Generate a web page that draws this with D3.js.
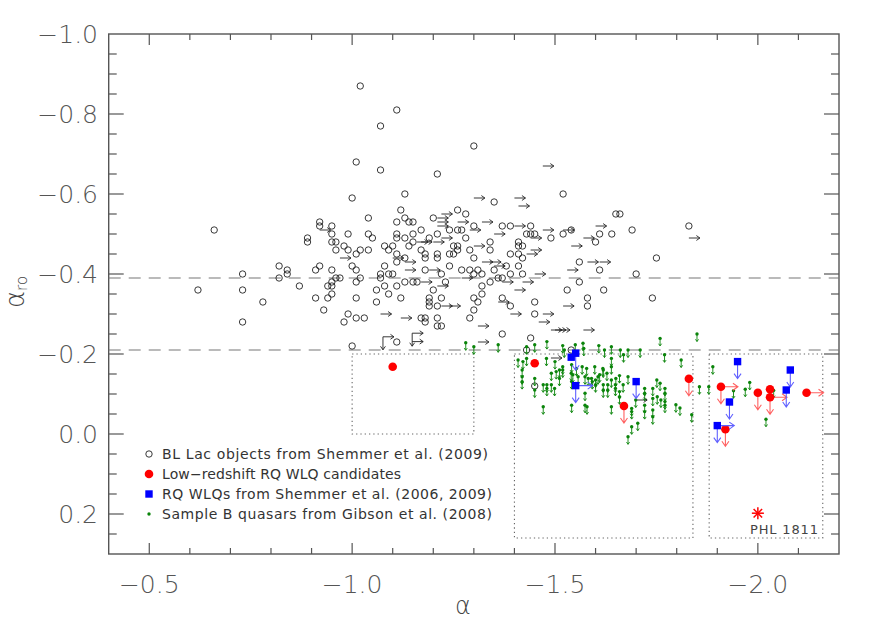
<!DOCTYPE html>
<html>
<head>
<meta charset="utf-8">
<script src="https://cdn.jsdelivr.net/npm/d3@7"></script>
<style>
  body { margin: 0; background: #fff; }
  svg { display: block; }
</style>
</head>
<body>
<svg id="chart" width="872" height="623"></svg>
<script>
// BL Lac objects (Shemmer et al. 2009): [alpha, alphaRO]
const blLac = [
  [-1.02,-0.87],[-1.11,-0.81],[-1.07,-0.77],[-1.01,-0.68],[-1.07,-0.66],[-1.21,-0.65],[-1.13,-0.60],[-1.00,-0.59],
  [-0.66,-0.51],[-0.62,-0.36],[-0.73,-0.40],[-0.73,-0.36],[-0.78,-0.33],[-0.82,-0.42],[-0.82,-0.39],[-0.84,-0.41],
  [-0.84,-0.40],[-0.87,-0.37],[-0.89,-0.49],[-0.89,-0.48],[-0.91,-0.41],[-0.92,-0.42],[-0.91,-0.34],[-0.93,-0.31],
  [-0.92,-0.53],[-0.92,-0.52],[-0.95,-0.52],[-0.95,-0.50],[-0.95,-0.48],[-0.96,-0.48],[-0.96,-0.46],[-0.95,-0.41],
  [-0.94,-0.37],[-0.95,-0.37],[-0.95,-0.38],[-0.94,-0.34],[-0.95,-0.35],[-0.96,-0.39],[-0.97,-0.39],[-0.99,-0.50],
  [-0.98,-0.47],[-0.99,-0.46],[-1.00,-0.42],[-1.01,-0.41],[-1.01,-0.38],[-1.02,-0.39],[-1.01,-0.45],[-1.02,-0.46],
  [-1.01,-0.34],[-0.99,-0.30],[-1.01,-0.29],[-1.03,-0.29],[-1.04,-0.54],[-1.04,-0.50],[-1.05,-0.49],[-1.04,-0.46],
  [-1.06,-0.36],[-1.06,-0.33],[-1.07,-0.40],[-1.07,-0.39],[-1.08,-0.42],[-1.08,-0.47],[-1.09,-0.46],[-1.10,-0.47],
  [-1.08,-0.37],[-1.09,-0.35],[-1.09,-0.40],[-1.10,-0.40],[-1.11,-0.53],[-1.11,-0.50],[-1.11,-0.49],[-1.12,-0.56],
  [-1.13,-0.54],[-1.14,-0.53],[-1.15,-0.53],[-1.13,-0.49],[-1.15,-0.50],[-1.14,-0.47],[-1.15,-0.48],[-1.17,-0.51],
  [-1.17,-0.46],[-1.11,-0.45],[-1.11,-0.43],[-1.11,-0.37],[-1.13,-0.44],[-1.12,-0.34],[-1.13,-0.38],[-1.15,-0.38],
  [-1.16,-0.38],[-1.18,-0.45],[-1.18,-0.44],[-1.18,-0.41],[-1.19,-0.49],[-1.21,-0.50],[-1.20,-0.54],[-1.21,-0.45],
  [-1.21,-0.44],[-1.22,-0.40],[-1.23,-0.38],[-1.20,-0.36],[-1.19,-0.34],[-1.19,-0.33],[-1.19,-0.32],[-1.22,-0.34],
  [-1.21,-0.32],[-1.24,-0.51],[-1.24,-0.45],[-1.24,-0.42],[-1.17,-0.29],[-1.18,-0.29],[-1.18,-0.28],[-1.21,-0.29],
  [-1.21,-0.27],[-1.22,-0.27],[-0.73,-0.28],[-0.98,-0.28],[-1.00,-0.22],[-1.11,-0.23],
  [-1.30,-0.72],[-1.52,-0.60],[-1.35,-0.58],[-1.26,-0.56],[-1.28,-0.55],[-1.65,-0.55],[-1.66,-0.55],[-1.83,-0.52],
  [-1.26,-0.51],[-1.27,-0.51],[-1.30,-0.52],[-1.37,-0.52],[-1.39,-0.52],[-1.44,-0.52],[-1.43,-0.50],[-1.44,-0.50],
  [-1.45,-0.50],[-1.54,-0.51],[-1.52,-0.50],[-1.61,-0.50],[-1.64,-0.50],[-1.69,-0.51],[-1.28,-0.49],[-1.34,-0.48],
  [-1.41,-0.48],[-1.41,-0.47],[-1.42,-0.47],[-1.49,-0.49],[-1.60,-0.48],[-1.25,-0.47],[-1.26,-0.47],[-1.26,-0.46],
  [-1.29,-0.46],[-1.34,-0.46],[-1.25,-0.45],[-1.30,-0.44],[-1.39,-0.45],[-1.41,-0.45],[-1.42,-0.44],[-1.56,-0.43],
  [-1.75,-0.44],[-1.27,-0.41],[-1.29,-0.41],[-1.31,-0.41],[-1.35,-0.41],[-1.38,-0.42],[-1.41,-0.42],[-1.30,-0.40],
  [-1.32,-0.40],[-1.39,-0.40],[-1.42,-0.40],[-1.61,-0.41],[-1.70,-0.40],[-1.36,-0.39],[-1.37,-0.39],[-1.34,-0.38],
  [-1.56,-0.38],[-1.32,-0.37],[-1.32,-0.35],[-1.53,-0.36],[-1.62,-0.36],[-1.30,-0.34],[-1.31,-0.33],[-1.37,-0.34],
  [-1.39,-0.32],[-1.45,-0.33],[-1.58,-0.34],[-1.58,-0.32],[-1.74,-0.34],[-1.30,-0.31],[-1.29,-0.29],[-1.45,-0.30],
  [-1.37,-0.25],[-1.44,-0.24],[-1.45,-0.12],[-1.43,-0.21],[-1.54,-0.21]
];

// BL Lac objects with an upper limit on alpha (arrow to the right)
const blLacAlphaLimits = [
  [-1.47,-0.67],[-1.30,-0.59],[-1.40,-0.59],[-1.41,-0.57],[-1.22,-0.55],[-1.21,-0.54],[-1.21,-0.53],[-1.21,-0.52],
  [-1.26,-0.53],[-1.32,-0.53],[-1.29,-0.51],[-1.35,-0.50],[-1.40,-0.52],[-1.47,-0.51],[-1.52,-0.51],[-1.60,-0.52],
  [-1.83,-0.49],[-1.17,-0.48],[-1.20,-0.48],[-1.22,-0.49],[-1.30,-0.47],[-1.44,-0.49],[-1.54,-0.47],[-1.57,-0.49],
  [-1.44,-0.46],[-1.43,-0.45],[-1.32,-0.43],[-1.34,-0.43],[-1.35,-0.42],[-1.58,-0.43],[-1.61,-0.43],[-1.17,-0.38],
  [-1.21,-0.37],[-1.37,-0.38],[-1.42,-0.38],[-1.45,-0.40],[-1.53,-0.41],[-1.40,-0.36],[-1.22,-0.32],[-1.24,-0.32],
  [-1.36,-0.33],[-1.52,-0.32],[-1.39,-0.30],[-1.47,-0.30],[-1.27,-0.39],[-0.92,-0.51],[-0.97,-0.44],[-1.10,-0.44],
  [-1.13,-0.43],[-1.13,-0.41],[-1.16,-0.48],[-1.19,-0.41],[-1.07,-0.30],[-1.12,-0.29],[-1.31,-0.27],[-1.31,-0.23],
  [-1.46,-0.28],[-1.49,-0.26],[-1.50,-0.26],[-1.51,-0.26],[-1.57,-0.26],[-1.49,-0.19],[-1.70,-0.085],[-1.148,-0.231]
];

// BL Lac objects with limits on both alpha and alphaRO
const blLacBothLimits = [[-1.076,-0.243],[-1.148,-0.252]];

// Sample B quasars (Gibson et al. 2008), alphaRO upper limits
const sampleB = [
  [-1.280,-0.228],[-1.300,-0.218],[-1.360,-0.223],[-1.409,-0.185],[-1.421,-0.181],[-1.430,-0.189],[-1.419,-0.143],
  [-1.419,-0.131],[-1.430,-0.218],[-1.450,-0.223],[-1.450,-0.139],[-1.450,-0.110],[-1.480,-0.231],[-1.479,-0.189],
  [-1.491,-0.152],[-1.503,-0.156],[-1.511,-0.160],[-1.471,-0.123],[-1.480,-0.123],[-1.491,-0.123],[-1.499,-0.114],
  [-1.511,-0.139],[-1.519,-0.221],[-1.523,-0.210],[-1.519,-0.168],[-1.519,-0.160],[-1.540,-0.152],[-1.544,-0.148],
  [-1.553,-0.164],[-1.557,-0.143],[-1.569,-0.227],[-1.571,-0.214],[-1.567,-0.168],[-1.578,-0.164],[-1.574,-0.143],
  [-1.582,-0.139],[-1.590,-0.139],[-1.592,-0.131],[-1.598,-0.168],[-1.606,-0.143],[-1.618,-0.164],[-1.608,-0.221],
  [-1.574,-0.102],[-1.574,-0.072],[-1.471,-0.068],[-1.541,-0.072],[-1.579,-0.068],[-1.600,-0.135],[-1.600,-0.123],
  [-1.550,-0.223],[-1.759,-0.239],[-1.639,-0.218],[-1.622,-0.210],[-1.661,-0.210],[-1.680,-0.210],[-1.669,-0.198],
  [-1.710,-0.210],[-1.770,-0.198],[-1.811,-0.185],[-1.850,-0.250],[-1.639,-0.189],[-1.639,-0.168],[-1.619,-0.160],
  [-1.610,-0.148],[-1.628,-0.152],[-1.639,-0.135],[-1.650,-0.139],[-1.659,-0.146],[-1.649,-0.123],[-1.649,-0.114],
  [-1.619,-0.123],[-1.619,-0.110],[-1.630,-0.123],[-1.630,-0.110],[-1.659,-0.106],[-1.659,-0.093],[-1.721,-0.114],
  [-1.721,-0.102],[-1.741,-0.114],[-1.741,-0.089],[-1.751,-0.135],[-1.759,-0.127],[-1.771,-0.114],[-1.771,-0.102],
  [-1.771,-0.081],[-1.752,-0.093],[-1.761,-0.085],[-1.699,-0.085],[-1.721,-0.072],[-1.721,-0.056],[-1.689,-0.064],
  [-1.689,-0.056],[-1.639,-0.068],[-1.741,-0.060],[-1.741,-0.043],[-1.704,-0.027],[-1.689,-0.018],[-1.680,0.007],
  [-1.798,-0.073],[-1.808,-0.065],[-1.837,-0.048],[-1.856,-0.118],[-1.771,-0.072],[-1.889,-0.168],[-1.879,-0.118],
  [-1.940,-0.108],[-1.969,-0.112],[-1.980,-0.129],[-2.039,-0.109],[-2.020,-0.037],[-1.419,-0.160],[-1.480,-0.114],
  [-1.500,-0.181],[-1.541,-0.173],[-1.541,-0.131],[-1.668,-0.123],[-1.680,-0.143]
];

// Low-redshift RQ WLQ candidates: [alpha, alphaRO, limits] (d = alphaRO limit, r = alpha limit)
const wlqCandidates = [
  [-1.10,-0.168,""],[-1.45,-0.177,""],[-1.67,-0.070,"d"],[-1.83,-0.138,"d"],[-1.909,-0.118,"dr"],
  [-1.92,-0.012,"d"],[-2.00,-0.103,"d"],[-2.03,-0.112,""],[-2.03,-0.092,"dr"],[-2.12,-0.103,"r"]
];

// RQ WLQs from Shemmer et al. (2006, 2009)
const shemmerWlqs = [
  [-1.54,-0.192,""],[-1.551,-0.202,"d"],[-1.551,-0.121,"dr"],[-1.70,-0.131,"d"],[-1.95,-0.181,"d"],
  [-1.93,-0.080,"d"],[-1.90,-0.021,"dr"],[-2.08,-0.160,"d"],[-2.07,-0.110,"d"]
];

const phl1811 = [-2.00, 0.198];

// dividing lines and selection boxes: [alphaMin, alphaMax, roMin, roMax]
const dashedLevels = [-0.39, -0.21];
const boxes = [
  [-1.00, -1.30, -0.20, 0.00],
  [-1.40, -1.84, -0.20, 0.26],
  [-1.88, -2.16, -0.20, 0.26]
];

const xMajor = [-0.5, -1.0, -1.5, -2.0];
const yMajor = [-1.0, -0.8, -0.6, -0.4, -0.2, 0.0, 0.2];

const legendLabels = [
  "BL Lac objects from Shemmer et al. (2009)",
  "Low\u2212redshift RQ WLQ candidates",
  "RQ WLQs from Shemmer et al. (2006, 2009)",
  "Sample B quasars from Gibson et al. (2008)"
];

const chart = (() => {
  const margin = { top: 34, right: 33, bottom: 69, left: 108.7 };
  const width = 872, height = 623;
  const svg = d3.select("#chart");

  const x = d3.scaleLinear().domain([-0.4, -2.2]).range([margin.left, width - margin.right]);
  const y = d3.scaleLinear().domain([-1.0, 0.3]).range([margin.top, height - margin.bottom]);

  const axisColor = "#555";
  const fmt = d3.format(".1f");

  // frame
  svg.append("rect")
    .attr("x", x(-0.4)).attr("y", y(-1.0))
    .attr("width", x(-2.2) - x(-0.4)).attr("height", y(0.3) - y(-1.0))
    .attr("fill", "none").attr("stroke", axisColor).attr("stroke-width", 1.4);

  // ticks: x every 0.1, y every 0.05
  const xTicks = d3.range(5, 22).map(i => -i / 10);
  const yTicks = d3.range(-20, 7).map(i => i / 20);
  const isMajorX = v => xMajor.some(m => Math.abs(m - v) < 1e-6);
  const isMajorY = v => yMajor.some(m => Math.abs(m - v) < 1e-6);

  const ticks = svg.append("g").attr("stroke", axisColor).attr("stroke-width", 1.2);
  for (const v of xTicks) {
    const len = isMajorX(v) ? 11 : 6;
    ticks.append("line").attr("x1", x(v)).attr("x2", x(v)).attr("y1", y(0.3)).attr("y2", y(0.3) - len);
    ticks.append("line").attr("x1", x(v)).attr("x2", x(v)).attr("y1", y(-1.0)).attr("y2", y(-1.0) + len);
  }
  for (const v of yTicks) {
    if (v <= -1.0 || v >= 0.3) continue;
    const len = isMajorY(v) ? 15 : 8;
    ticks.append("line").attr("x1", x(-0.4)).attr("x2", x(-0.4) + len).attr("y1", y(v)).attr("y2", y(v));
    ticks.append("line").attr("x1", x(-2.2)).attr("x2", x(-2.2) - len).attr("y1", y(v)).attr("y2", y(v));
  }

  const labelFont = "'DejaVu Sans', sans-serif";
  svg.append("g")
    .attr("font-family", labelFont).attr("font-weight", 200)
    .attr("font-size", 25).attr("fill", axisColor).attr("text-anchor", "end")
    .selectAll("text").data(yMajor).join("text")
    .attr("x", 98).attr("y", d => y(d)).attr("dy", "0.36em")
    .text(d => fmt(d));

  svg.append("g")
    .attr("font-family", labelFont).attr("font-weight", 200)
    .attr("font-size", 25).attr("fill", axisColor).attr("text-anchor", "middle")
    .selectAll("text").data(xMajor).join("text")
    .attr("x", d => x(d)).attr("y", 593)
    .text(d => fmt(d));

  // axis titles
  svg.append("text")
    .attr("x", x(-1.273)).attr("y", 614)
    .attr("font-family", labelFont).attr("font-weight", 200).attr("font-size", 24)
    .attr("fill", "#444").attr("text-anchor", "middle")
    .text("\u03b1");

  const yTitle = svg.append("text")
    .attr("transform", "translate(24,292) rotate(-90)")
    .attr("font-family", labelFont).attr("font-weight", 200).attr("font-size", 26)
    .attr("fill", "#444").attr("text-anchor", "middle");
  yTitle.append("tspan").text("\u03b1");
  yTitle.append("tspan").attr("font-size", 15).attr("dy", 3).text("ro");

  // dashed levels
  svg.append("g")
    .attr("stroke", "#777").attr("stroke-width", 1.1).attr("stroke-dasharray", "12,8")
    .selectAll("line").data(dashedLevels).join("line")
    .attr("x1", x(-0.4)).attr("x2", x(-2.2))
    .attr("y1", d => y(d)).attr("y2", d => y(d));

  // dotted selection boxes
  svg.append("g")
    .attr("fill", "none").attr("stroke", "#666").attr("stroke-width", 1.1).attr("stroke-dasharray", "1.3,3")
    .selectAll("rect").data(boxes).join("rect")
    .attr("x", d => x(d[0])).attr("y", d => y(d[2]))
    .attr("width", d => x(d[1]) - x(d[0])).attr("height", d => y(d[3]) - y(d[2]));

  const arrowRight = (px, py, len, head) =>
    `M${px},${py}H${px + len}M${px + len - head},${py - head * 0.7}L${px + len},${py}L${px + len - head},${py + head * 0.7}`;
  const arrowDown = (px, py, len, head) =>
    `M${px},${py}V${py + len}M${px - head * 0.7},${py + len - head}L${px},${py + len}L${px + head * 0.7},${py + len - head}`;

  // BL Lac circles and limits
  svg.append("g")
    .attr("fill", "none").attr("stroke", "#222").attr("stroke-width", 0.9)
    .selectAll("circle").data(blLac).join("circle")
    .attr("cx", d => x(d[0])).attr("cy", d => y(d[1])).attr("r", 3.2);

  svg.append("g")
    .attr("fill", "none").attr("stroke", "#222").attr("stroke-width", 0.9)
    .selectAll("path").data(blLacAlphaLimits).join("path")
    .attr("d", d => arrowRight(x(d[0]), y(d[1]), 11, 3.5));

  svg.append("g")
    .attr("fill", "none").attr("stroke", "#222").attr("stroke-width", 0.9)
    .selectAll("path").data(blLacBothLimits).join("path")
    .attr("d", d => arrowRight(x(d[0]), y(d[1]), 11, 3.5) + arrowDown(x(d[0]), y(d[1]), 13, 3.5));

  // Sample B quasars
  const green = "#0a840a";
  const gB = svg.append("g").selectAll("g").data(sampleB).join("g")
    .attr("transform", d => `translate(${x(d[0])},${y(d[1])})`);
  gB.append("path")
    .attr("fill", "none").attr("stroke", green).attr("stroke-width", 0.9)
    .attr("d", arrowDown(0, 1, 6.5, 2.2));
  gB.append("circle").attr("r", 1.7).attr("fill", green);

  // WLQ candidates and Shemmer WLQs with their limit arrows
  const drawLimits = (data, color) => {
    svg.append("g")
      .attr("fill", "none").attr("stroke", color).attr("stroke-width", 1.1)
      .selectAll("path").data(data.filter(d => d[2])).join("path")
      .attr("d", d => {
        let p = "";
        if (d[2].includes("d")) p += arrowDown(x(d[0]), y(d[1]), 17, 5);
        if (d[2].includes("r")) p += arrowRight(x(d[0]), y(d[1]), 17, 5);
        return p;
      });
  };
  drawLimits(wlqCandidates, "#ff6060");
  svg.append("g")
    .attr("fill", "#ff0000")
    .selectAll("circle").data(wlqCandidates).join("circle")
    .attr("cx", d => x(d[0])).attr("cy", d => y(d[1])).attr("r", 4.3);

  drawLimits(shemmerWlqs, "#6060ff");
  svg.append("g")
    .attr("fill", "#0000ff")
    .selectAll("rect").data(shemmerWlqs).join("rect")
    .attr("x", d => x(d[0]) - 3.7).attr("y", d => y(d[1]) - 3.7)
    .attr("width", 7.4).attr("height", 7.4);

  // PHL 1811
  const star = svg.append("g")
    .attr("transform", `translate(${x(phl1811[0])},${y(phl1811[1])})`)
    .attr("stroke", "#ff0000").attr("stroke-width", 1.5);
  for (const a of [0, 45, 90, 135]) {
    star.append("line").attr("x1", -6).attr("x2", 6).attr("transform", `rotate(${a})`);
  }
  svg.append("text")
    .attr("x", 750).attr("y", 534)
    .attr("font-family", labelFont).attr("font-size", 13).attr("fill", "#444")
    .attr("textLength", 68).attr("lengthAdjust", "spacing")
    .text("PHL 1811");

  // legend
  const legendX = 149, legendY = 454, legendStep = 20;
  const legendWidths = [326, 239, 330, 330];
  const legend = svg.append("g");
  legend.append("circle").attr("cx", legendX).attr("cy", legendY).attr("r", 3.2)
    .attr("fill", "none").attr("stroke", "#222").attr("stroke-width", 0.9);
  legend.append("circle").attr("cx", legendX).attr("cy", legendY + legendStep).attr("r", 4.3).attr("fill", "#ff0000");
  legend.append("rect").attr("x", legendX - 3.7).attr("y", legendY + 2 * legendStep - 3.7)
    .attr("width", 7.4).attr("height", 7.4).attr("fill", "#0000ff");
  legend.append("circle").attr("cx", legendX).attr("cy", legendY + 3 * legendStep).attr("r", 1.7).attr("fill", green);
  legend.selectAll("text").data(legendLabels).join("text")
    .attr("x", 162).attr("y", (d, i) => legendY + i * legendStep).attr("dy", "0.36em")
    .attr("font-family", labelFont).attr("font-size", 14).attr("fill", "#333")
    .attr("textLength", (d, i) => legendWidths[i]).attr("lengthAdjust", "spacing")
    .text(d => d);

  return svg.node();
})();
</script>
</body>
</html>
